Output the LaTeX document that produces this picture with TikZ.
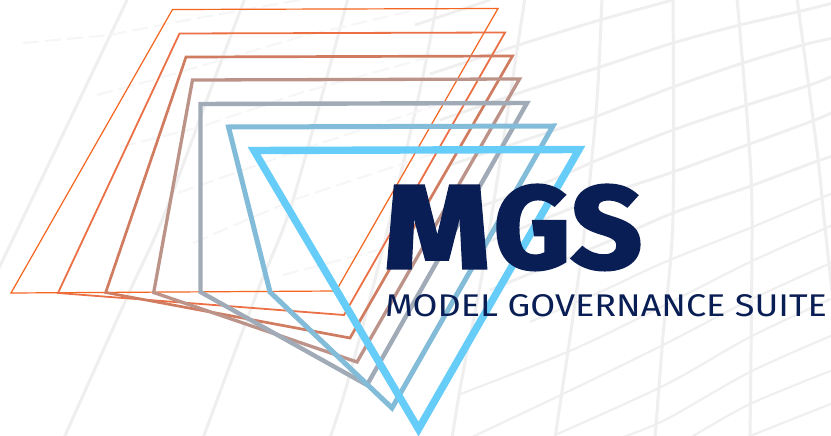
\documentclass[tikz,border=0pt]{standalone}
\usepackage{fontspec}
\newfontfamily\mgsfont[FakeBold=2.6]{Fira Sans Bold}
\newfontfamily\subfont{Fira Sans}
\definecolor{navy}{HTML}{0A1E56}
\definecolor{gridc}{HTML}{EFEFEF}
\definecolor{gridf}{HTML}{F6F6F6}
\definecolor{cA}{HTML}{F4651F}
\definecolor{cB}{HTML}{EC7045}
\definecolor{cC}{HTML}{D07C60}
\definecolor{cD}{HTML}{BC9389}
\definecolor{cE}{HTML}{A0ABB7}
\definecolor{cF}{HTML}{82BCD8}
\definecolor{cG}{HTML}{66CCF8}
\tikzset{
  vline/.style={draw=gridc,line width=3pt,line join=round},
  hline/.style={draw=gridc,line width=2.8pt,line join=round},
  lline/.style={draw=gridc,line width=2.1pt,line join=round},
  fline/.style={draw=gridf,line width=2pt,dash pattern=on 16pt off 6pt},
  frame/.style={line join=miter,miter limit=10},
  txt/.style={inner sep=0pt,outer sep=0pt,text=navy,anchor=south west}
}
\begin{document}
\begin{tikzpicture}[x=1pt,y=-1pt]
\useasboundingbox (0,0) rectangle (831,436);
\fill[white] (0,0) rectangle (831,436);
\begin{scope}
\clip (0,0) rectangle (831,436);
% near-vertical lines
\draw[vline] plot[smooth,tension=.5] coordinates {(128,-2)(23,218)(-2,270)};
\draw[vline] plot[smooth,tension=.5] coordinates {(245,-2)(213,83)(163,218)(128,295)(64,438)};
\draw[vline] plot[smooth,tension=.5] coordinates {(348,-2)(293,200)(258,290)(203,438)};
\draw[vline] plot[smooth,tension=.5] coordinates {(438,-2)(420,90)(385,240)(348,381)(330,438)};
\draw[vline] plot[smooth,tension=.5] coordinates {(525,-2)(517,50)(505,130)(482,275)(462,378)(452,438)};
\draw[vline] plot[smooth,tension=.5] coordinates {(602,-2)(597,100)(586,218)(578,281)(568,351)(555,438)};
\draw[vline] plot[smooth,tension=.5] coordinates {(673,-2)(673,218)(663,336)(655,438)};
\draw[vline] plot[smooth,tension=.5] coordinates {(737,-2)(748,130)(752,218)(750,438)};
\draw[vline] plot[smooth,tension=.5] coordinates {(797,-2)(817,150)(824,218)(833,300)};
% rising lines, full strength on the right
\draw[hline] (415,25) -- (490,0);
\draw[hline] plot[smooth,tension=.5] coordinates {(430,74)(525,43)(600,20)(673,0)};
\draw[hline] plot[smooth,tension=.5] coordinates {(440,120)(522,92)(600,67)(673,43)(740,25)(797,12)(833,3)};
\draw[hline] plot[smooth,tension=.5] coordinates {(450,165)(525,140)(600,115)(673,87)(743,63)(803,45)(833,38)};
\draw[hline] plot[smooth,tension=.5] coordinates {(470,210)(540,185)(600,159)(673,130)(747,105)(810,85)(833,76)};
\draw[hline] plot[smooth,tension=.5] coordinates {(480,245)(600,197)(673,172)(747,145)(815,120)(833,112)};
\draw[hline] plot[smooth,tension=.5] coordinates {(490,290)(600,245)(673,213)(748,187)(812,163)(833,156)};
\draw[lline] plot[smooth,tension=.5] coordinates {(530,322)(600,292)(665,262)(750,228)(833,193)};
\draw[lline] plot[smooth,tension=.5] coordinates {(458,395)(572,350)(665,305)(750,262)(833,225)};
\draw[lline] plot[smooth,tension=.5] coordinates {(470,438)(565,393)(665,344)(750,300)(833,262)};
\draw[lline] plot[smooth,tension=.5] coordinates {(555,435)(665,385)(750,337)(833,298)};
\draw[lline] plot[smooth,tension=.5] coordinates {(620,438)(665,420)(750,372)(833,335)};
\draw[lline] plot[smooth,tension=.5] coordinates {(690,438)(750,404)(833,370)};
\draw[lline] plot[smooth,tension=.5] coordinates {(745,438)(833,403)};
% rising lines, faded on the left
\draw[fline] (23,43) -- (110,35) -- (187,20) -- (300,0);
\draw[fline] (97,95) -- (153,80) -- (300,37) -- (415,10);
\draw[fline] (120,147) -- (200,127) -- (300,93) -- (430,57);
\draw[fline] (178,193) -- (300,150) -- (440,104);
\draw[fline] (193,243) -- (293,200) -- (450,148);
\draw[fline] (283,275) -- (413,241);
\end{scope}
% nested frames
\draw[frame,cA,line width=1.2pt] (172.5,9.5) -- (498,8.5) -- (336,291) -- (11,293) -- cycle;
\draw[frame,cB,line width=1.8pt] (179.5,33.5) -- (505,32.5) -- (344,315) -- (58,293) -- cycle;
\draw[frame,cC,line width=2.7pt] (186,57) -- (512.5,56) -- (350,338) -- (105.7,292.5) -- cycle;
\draw[frame,cD,line width=3.3pt] (192.5,80) -- (519.5,79) -- (357,362) -- (153.7,292.5) -- cycle;
\draw[frame,cE,line width=4.4pt] (200.5,104) -- (527,103) -- (367,385) -- (200.5,292) -- cycle;
\draw[frame,cF,line width=5pt] (228.5,127) -- (553,126) -- (392,408) -- (270,292) -- cycle;
\draw[frame,cG,line width=7.4pt] (254,150.5) -- (579,149.5) -- (418.5,429) -- cycle;
% wordmark
\node[txt] (mgs) at (384,270) {\resizebox{106pt}{82pt}{\mgsfont M}\kern4pt\resizebox{76pt}{83pt}{\mgsfont G}\kern1pt\resizebox{71pt}{83pt}{\mgsfont S}};
\node[txt] (suite) at (385,316.5) {\resizebox{442pt}{22pt}{\subfont MODEL GOVERNANCE SUITE}};
\end{tikzpicture}
\end{document}
